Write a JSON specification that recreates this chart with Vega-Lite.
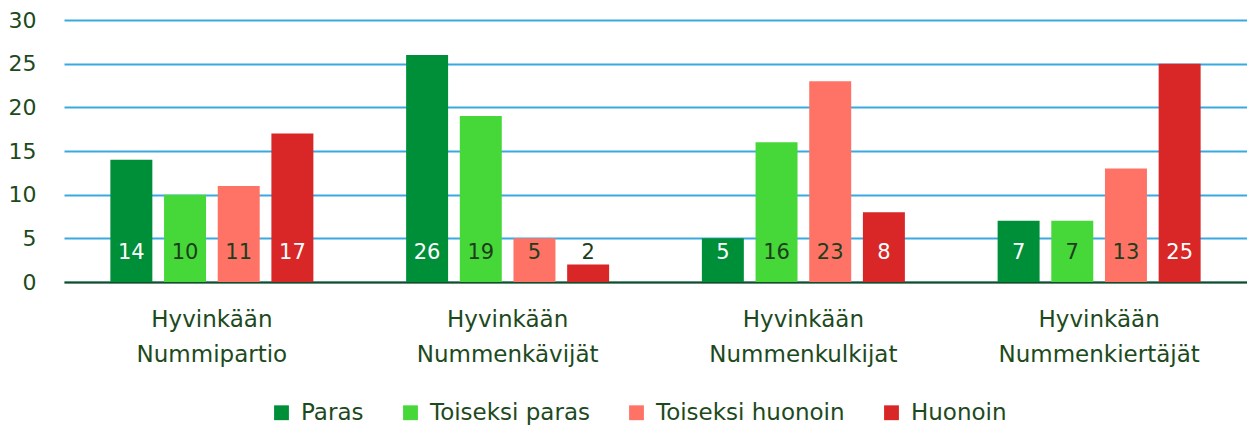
{
  "$schema": "https://vega.github.io/schema/vega-lite/v6.json",
  "autosize": "none",
  "width": 1183,
  "height": 262,
  "padding": {"left": 64, "top": 20, "right": 0, "bottom": 145},
  "background": "white",
  "config": {
    "view": {"stroke": null},
    "font": "DejaVu Sans",
    "text": {"font": "DejaVu Sans"}
  },
  "data": {
    "values": [
      {"group": "Hyvinkään Nummipartio", "series": "Paras", "value": 14},
      {"group": "Hyvinkään Nummipartio", "series": "Toiseksi paras", "value": 10},
      {"group": "Hyvinkään Nummipartio", "series": "Toiseksi huonoin", "value": 11},
      {"group": "Hyvinkään Nummipartio", "series": "Huonoin", "value": 17},
      {"group": "Hyvinkään Nummenkävijät", "series": "Paras", "value": 26},
      {"group": "Hyvinkään Nummenkävijät", "series": "Toiseksi paras", "value": 19},
      {"group": "Hyvinkään Nummenkävijät", "series": "Toiseksi huonoin", "value": 5},
      {"group": "Hyvinkään Nummenkävijät", "series": "Huonoin", "value": 2},
      {"group": "Hyvinkään Nummenkulkijat", "series": "Paras", "value": 5},
      {"group": "Hyvinkään Nummenkulkijat", "series": "Toiseksi paras", "value": 16},
      {"group": "Hyvinkään Nummenkulkijat", "series": "Toiseksi huonoin", "value": 23},
      {"group": "Hyvinkään Nummenkulkijat", "series": "Huonoin", "value": 8},
      {"group": "Hyvinkään Nummenkiertäjät", "series": "Paras", "value": 7},
      {"group": "Hyvinkään Nummenkiertäjät", "series": "Toiseksi paras", "value": 7},
      {"group": "Hyvinkään Nummenkiertäjät", "series": "Toiseksi huonoin", "value": 13},
      {"group": "Hyvinkään Nummenkiertäjät", "series": "Huonoin", "value": 25}
    ]
  },
  "encoding": {
    "x": {
      "field": "group",
      "type": "nominal",
      "sort": null,
      "title": null,
      "scale": {"paddingInner": 0.274, "paddingOuter": 0.137},
      "axis": {
        "labelAngle": 0,
        "labelExpr": "split(datum.label, ' ')",
        "labelFontSize": 23,
        "labelLineHeight": 35,
        "labelLimit": 0,
        "labelColor": "#1d4a1d",
        "labelPadding": 26,
        "ticks": false,
        "domain": true,
        "domainColor": "#1d4a1d",
        "domainWidth": 2,
        "grid": false
      }
    },
    "xOffset": {
      "field": "series",
      "type": "nominal",
      "sort": ["Paras", "Toiseksi paras", "Toiseksi huonoin", "Huonoin"],
      "scale": {"paddingInner": 0.218, "paddingOuter": 0.109}
    }
  },
  "layer": [
    {
      "mark": {"type": "bar"},
      "encoding": {
        "y": {
          "field": "value",
          "type": "quantitative",
          "title": null,
          "scale": {"domain": [0, 30]},
          "axis": {
            "values": [0, 5, 10, 15, 20, 25, 30],
            "labelFontSize": 22,
            "labelColor": "#1d4a1d",
            "labelPadding": 28,
            "ticks": false,
            "domain": false,
            "grid": true,
            "gridColor": "#3aa9e2",
            "gridWidth": 2
          }
        },
        "color": {
          "field": "series",
          "type": "nominal",
          "title": null,
          "scale": {
            "domain": ["Paras", "Toiseksi paras", "Toiseksi huonoin", "Huonoin"],
            "range": ["#008f39", "#45d838", "#ff7366", "#d92626"]
          },
          "legend": {
            "orient": "none",
            "legendX": 206,
            "legendY": 381,
            "direction": "horizontal",
            "symbolType": "square",
            "symbolSize": 220,
            "symbolStrokeWidth": 0,
            "labelFontSize": 23,
            "labelLimit": 0,
            "labelColor": "#1d4a1d",
            "labelOffset": 8,
            "columnPadding": 35
          }
        }
      }
    },
    {
      "mark": {"type": "text", "fontSize": 21, "baseline": "middle", "align": "center", "dy": -29},
      "encoding": {
        "y": {"datum": 0, "type": "quantitative"},
        "text": {"field": "value", "type": "quantitative"},
        "color": {
          "condition": {
            "test": "datum.series == 'Paras' || (datum.series == 'Huonoin' && datum.value > 3)",
            "value": "#ffffff"
          },
          "value": "#1d3d1d"
        }
      }
    }
  ]
}
